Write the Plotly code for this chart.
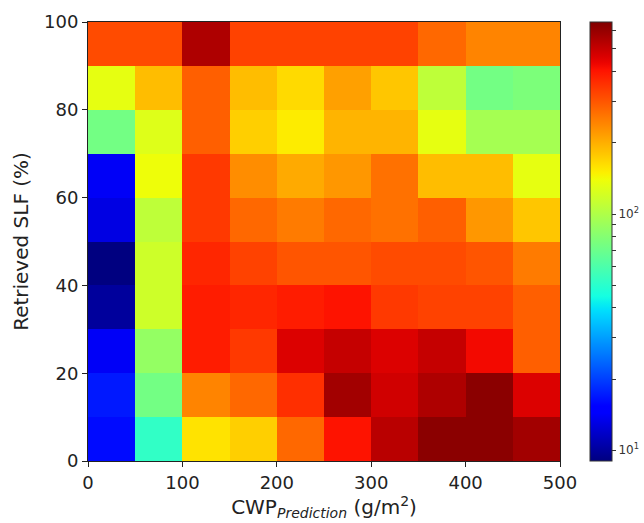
import numpy as np
import plotly.graph_objects as go

# Bin edges
x_edges = [0, 50, 100, 150, 200, 250, 300, 350, 400, 450, 500]
y_edges = [0, 10, 20, 30, 40, 50, 60, 70, 80, 90, 100]

# Counts per bin (rows from SLF 0-10 up to 90-100)
row_00_10 = [16, 52, 158, 173, 276, 406, 525, 623, 623, 572]
row_10_20 = [17, 73, 243, 276, 357, 572, 482, 548, 623, 461]
row_20_30 = [14, 87, 389, 342, 461, 503, 461, 503, 424, 288]
row_30_40 = [10, 117, 389, 373, 389, 406, 342, 328, 328, 288]
row_40_50 = [9, 117, 373, 328, 301, 301, 314, 314, 301, 254]
row_50_60 = [13, 108, 342, 276, 254, 276, 265, 288, 223, 180]
row_60_70 = [14, 139, 342, 233, 205, 223, 265, 188, 188, 133]
row_70_80 = [73, 128, 288, 173, 152, 196, 196, 133, 95, 95]
row_80_90 = [133, 188, 288, 188, 165, 214, 180, 108, 73, 77]
row_90_100 = [314, 314, 548, 328, 328, 328, 328, 276, 243, 243]

counts = [row_00_10, row_10_20, row_20_30, row_30_40, row_40_50,
          row_50_60, row_60_70, row_70_80, row_80_90, row_90_100]

vmin, vmax = 9, 650
cbar_ticks = [10, 20, 30, 40, 50, 60, 70, 80, 90, 100, 200, 300, 400, 500, 600]
cbar_labels = {10: "10<sup>1</sup>", 100: "10<sup>2</sup>"}

# matplotlib jet colormap
def jet(t):
    def seg(pts, t):
        xs = [p[0] for p in pts]; ys = [p[1] for p in pts]
        return float(np.interp(t, xs, ys))
    r = seg([(0, 0), (0.35, 0), (0.66, 1), (0.89, 1), (1, 0.5)], t)
    g = seg([(0, 0), (0.125, 0), (0.375, 1), (0.64, 1), (0.91, 0), (1, 0)], t)
    b = seg([(0, 0.5), (0.11, 1), (0.34, 1), (0.65, 0), (1, 0)], t)
    return f"rgb({int(round(r*255))},{int(round(g*255))},{int(round(b*255))})"

colorscale = [[t, jet(t)] for t in np.linspace(0, 1, 65)]

z = np.log10(np.array(counts, dtype=float))

fig = go.Figure(go.Heatmap(
    x=x_edges, y=y_edges, z=z,
    zmin=np.log10(vmin), zmax=np.log10(vmax),
    colorscale=colorscale,
    colorbar=dict(
        x=1.0636, xanchor="left", xref="paper", xpad=0,
        y=0.5, yanchor="middle", len=1.0, lenmode="fraction", ypad=0,
        thickness=22, outlinewidth=1, outlinecolor="#333",
        tickvals=[np.log10(v) for v in cbar_ticks],
        ticktext=[cbar_labels.get(v, "") for v in cbar_ticks],
        ticks="outside", ticklen=4, tickcolor="#333",
        tickfont=dict(family="DejaVu Sans", size=12, color="#333"),
    ),
))

fig.update_layout(
    width=644, height=523,
    margin=dict(l=88, r=84, t=22, b=62, autoexpand=False),
    paper_bgcolor="white", plot_bgcolor="white",
    font=dict(family="DejaVu Sans", color="#222"),
    xaxis=dict(
        range=[0, 500], tickvals=[0, 100, 200, 300, 400, 500],
        ticks="outside", ticklen=5, tickcolor="#222",
        showline=True, linecolor="#222", linewidth=1, mirror=True,
        showgrid=False, zeroline=False,
        tickfont=dict(size=18),
        title=dict(text="CWP<sub><i>Prediction</i></sub> (g/m<sup>2</sup>)",
                   font=dict(size=20), standoff=4),
    ),
    yaxis=dict(
        range=[0, 100], tickvals=[0, 20, 40, 60, 80, 100],
        ticks="outside", ticklen=5, tickcolor="#222",
        showline=True, linecolor="#222", linewidth=1, mirror=True,
        showgrid=False, zeroline=False,
        tickfont=dict(size=18),
        title=dict(text="Retrieved SLF (%)", font=dict(size=20), standoff=10),
    ),
)

fig.write_html(
    "out.html",
    config={"displayModeBar": False},
    post_script="document.body.style.margin='0';document.body.style.overflow='hidden';",
)
